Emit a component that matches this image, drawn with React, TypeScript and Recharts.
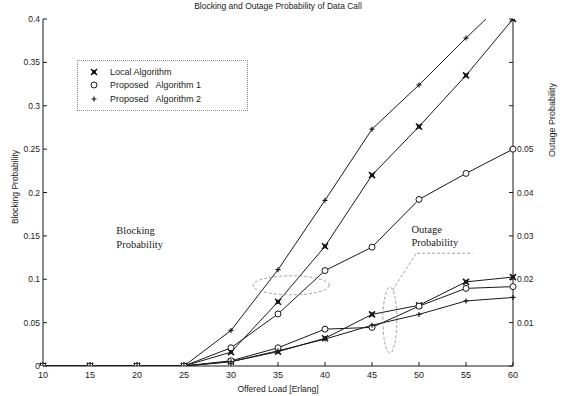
import React from 'react';
import { ComposedChart, Line, XAxis, YAxis, ReferenceDot, ReferenceLine, Legend } from 'recharts';

// offered load in Erlang
const loads = [10, 15, 20, 25, 30, 35, 40, 45, 50, 55, 60];

// blocking probability (left axis)
const blockingLocal = [0, 0, 0, 0, 0.016, 0.074, 0.138, 0.22, 0.276, 0.335, 0.4];
const blockingProp1 = [0, 0, 0, 0, 0.021, 0.06, 0.11, 0.137, 0.192, 0.222, 0.25];
const blockingProp2 = [0, 0, 0, 0, 0.041, 0.111, 0.191, 0.273, 0.324, 0.378, 0.43];

// outage probability (right axis)
const outageLocal = [0, 0, 0, 0, 0.001, 0.0033, 0.0064, 0.0119, 0.014, 0.0194, 0.0205];
const outageProp1 = [0, 0, 0, 0, 0.0012, 0.0042, 0.0085, 0.0089, 0.0138, 0.0179, 0.0183];
const outageProp2 = [0, 0, 0, 0, 0.001, 0.0035, 0.0062, 0.0094, 0.0119, 0.015, 0.0158];

const blockingTicks = [0, 0.05, 0.1, 0.15, 0.2, 0.25, 0.3, 0.35, 0.4];
const outageTicks = [0, 0.01, 0.02, 0.03, 0.04, 0.05, 0.06, 0.07, 0.08];
const outageLabelled = [0.01, 0.02, 0.03, 0.04, 0.05];

const rows = loads.map((load, i) => ({
  load,
  bLocal: blockingLocal[i],
  bProp1: blockingProp1[i],
  bProp2: blockingProp2[i],
  oLocal: outageLocal[i],
  oProp1: outageProp1[i],
  oProp2: outageProp2[i],
}));

const SANS = '"Liberation Sans", Arial, sans-serif';
const SERIF = '"Liberation Serif", "Times New Roman", serif';
const INK = '#1a1a1a';

function StarMark({ cx, cy }: { cx: number; cy: number }) {
  const s = 3;
  return (
    <g stroke={INK} strokeWidth={1.6}>
      <path d={`M${cx - s},${cy - s}L${cx + s},${cy + s}M${cx - s},${cy + s}L${cx + s},${cy - s}`} />
      <rect x={cx - 2} y={cy - 2} width={4} height={4} fill={INK} strokeWidth={0} />
    </g>
  );
}

function CircleMark({ cx, cy }: { cx: number; cy: number }) {
  return <circle cx={cx} cy={cy} r={3} fill="#fff" stroke={INK} strokeWidth={1} />;
}

function PlusMark({ cx, cy }: { cx: number; cy: number }) {
  const s = 2.5;
  return (
    <path d={`M${cx - s},${cy}L${cx + s},${cy}M${cx},${cy - s}L${cx},${cy + s}`} stroke={INK} strokeWidth={1.2} />
  );
}

const dotWith = (Mark: any) => (p: any) =>
  p.cx == null || p.cy == null ? <g key={p.index} /> : <Mark key={p.index} cx={p.cx} cy={p.cy} />;

const fmtBlocking = (v: number) => String(Number(v.toFixed(2)));
const fmtOutage = (v: number) => (outageLabelled.some((t) => Math.abs(t - v) < 1e-9) ? v.toFixed(2) : '');

function LegendBox() {
  const row = (mark: React.ReactNode, text: string) => (
    <div style={{ display: 'flex', alignItems: 'center', height: 13.5 }}>
      <svg width={16} height={10} style={{ marginRight: 8 }}>
        {mark}
      </svg>
      <span style={{ whiteSpace: 'pre' }}>{text}</span>
    </div>
  );
  return (
    <div
      style={{
        border: '1px dotted #888',
        padding: '4px 0 4px 8px',
        fontFamily: SANS,
        fontSize: 9,
        color: INK,
        width: 171,
        boxSizing: 'border-box',
      }}
    >
      {row(<StarMark cx={8} cy={5} />, 'Local Algorithm')}
      {row(<CircleMark cx={8} cy={5} />, 'Proposed   Algorithm 1')}
      {row(<PlusMark cx={8} cy={5} />, 'Proposed   Algorithm 2')}
    </div>
  );
}

const noteText = (lines: string[]) => (p: any) => (
  <text x={p.cx} y={p.cy} fontFamily={SERIF} fontSize={10.5} fill={INK}>
    {lines.map((l, i) => (
      <tspan key={l} x={p.cx} dy={i === 0 ? 0 : 13.5}>
        {l}
      </tspan>
    ))}
  </text>
);

const ellipse = (rx: number, ry: number) => (p: any) => (
  <ellipse cx={p.cx} cy={p.cy} rx={rx} ry={ry} fill="none" stroke="#888" strokeWidth={0.8} strokeDasharray="3 2" />
);

export default function App() {
  return (
    <div style={{ position: 'absolute', left: 0, top: 0, width: 574, height: 396, background: '#fff' }}>
      <div
        style={{
          position: 'absolute',
          left: 0,
          width: 556,
          top: 1,
          textAlign: 'center',
          fontFamily: SANS,
          fontSize: 8.5,
          color: INK,
        }}
      >
        Blocking and Outage Probability of Data Call
      </div>
      <div
        style={{
          position: 'absolute',
          left: 15,
          top: 187,
          transform: 'translate(-50%, -50%) rotate(-90deg)',
          whiteSpace: 'nowrap',
          fontFamily: SANS,
          fontSize: 8.5,
          color: INK,
        }}
      >
        Blocking Probability
      </div>
      <div
        style={{
          position: 'absolute',
          left: 552,
          top: 120,
          transform: 'translate(-50%, -50%) rotate(-90deg)',
          whiteSpace: 'nowrap',
          fontFamily: SANS,
          fontSize: 9,
          color: INK,
        }}
      >
        Outage Probability
      </div>
      <ComposedChart width={574} height={396} data={rows} margin={{ top: 19, right: 0, bottom: 0, left: 0 }}>
        <XAxis
          dataKey="load"
          type="number"
          domain={[10, 60]}
          ticks={loads}
          height={30}
          stroke={INK}
          tickSize={-4}
          tickMargin={10}
          tick={{ fontSize: 9, fill: INK, fontFamily: SANS }}
          label={{ value: 'Offered Load [Erlang]', position: 'insideBottom', offset: 4, fontSize: 8.5, fill: INK, fontFamily: SANS }}
        />
        <XAxis
          xAxisId="top"
          orientation="top"
          type="number"
          domain={[10, 60]}
          ticks={loads}
          height={0}
          stroke={INK}
          tickSize={-4}
          tick={false}
        />
        <YAxis
          yAxisId="b"
          domain={[0, 0.4]}
          ticks={blockingTicks}
          allowDataOverflow
          width={43}
          stroke={INK}
          tickSize={-4}
          tickMargin={7}
          tickFormatter={fmtBlocking}
          tick={{ fontSize: 8.5, fill: INK, fontFamily: SANS }}
        />
        <YAxis
          yAxisId="o"
          orientation="right"
          domain={[0, 0.08]}
          ticks={outageTicks}
          allowDataOverflow
          width={61}
          stroke={INK}
          tickSize={-4}
          tickMargin={8}
          tickFormatter={fmtOutage}
          tick={{ fontSize: 8.5, fill: INK, fontFamily: SANS }}
        />
        <Legend
          verticalAlign="middle"
          align="center"
          layout="horizontal"
          wrapperStyle={{ left: 77, top: 60, width: 171, height: 56 }}
          content={() => <LegendBox />}
        />

        <Line yAxisId="b" dataKey="bLocal" stroke={INK} strokeWidth={1} dot={dotWith(StarMark)} isAnimationActive={false} />
        <Line yAxisId="b" dataKey="bProp1" stroke={INK} strokeWidth={1} dot={dotWith(CircleMark)} isAnimationActive={false} />
        <Line yAxisId="b" dataKey="bProp2" stroke={INK} strokeWidth={1} dot={dotWith(PlusMark)} isAnimationActive={false} />
        <Line yAxisId="o" dataKey="oLocal" stroke={INK} strokeWidth={1} dot={dotWith(StarMark)} isAnimationActive={false} />
        <Line yAxisId="o" dataKey="oProp1" stroke={INK} strokeWidth={1} dot={dotWith(CircleMark)} isAnimationActive={false} />
        <Line yAxisId="o" dataKey="oProp2" stroke={INK} strokeWidth={1} dot={dotWith(PlusMark)} isAnimationActive={false} />

        {/* annotations: ellipses around each curve group with their captions */}
        <ReferenceDot yAxisId="b" x={36.4} y={0.093} r={0} shape={ellipse(38, 9.5)} />
        <ReferenceDot yAxisId="o" x={46.9} y={0.0106} r={0} shape={ellipse(7, 33)} />
        <ReferenceLine
          yAxisId="o"
          segment={[{ x: 47.2, y: 0.0175 }, { x: 49.8, y: 0.0263 }]}
          stroke="#888"
          strokeDasharray="3 2"
          strokeWidth={0.8}
        />
        <ReferenceLine
          yAxisId="o"
          segment={[{ x: 49.8, y: 0.026 }, { x: 55.7, y: 0.026 }]}
          stroke="#888"
          strokeDasharray="3 2"
          strokeWidth={0.8}
        />
        <ReferenceDot yAxisId="b" x={17.8} y={0.152} r={0} shape={noteText(['Blocking', 'Probability'])} />
        <ReferenceDot yAxisId="o" x={49.2} y={0.0307} r={0} shape={noteText(['Outage', 'Probability'])} />
      </ComposedChart>
    </div>
  );
}
